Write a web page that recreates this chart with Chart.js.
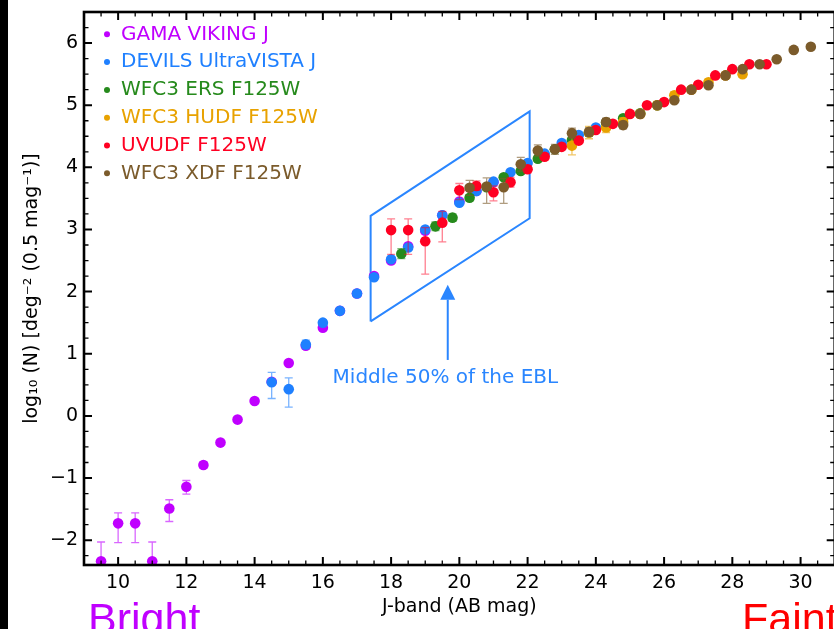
<!DOCTYPE html>
<html>
<head>
<meta charset="utf-8">
<script src="https://cdn.jsdelivr.net/npm/chart.js@4.4.1/dist/chart.umd.min.js"></script>
<style>
  html, body { margin: 0; padding: 0; background: #000; overflow: hidden; width: 834px; height: 629px; }
  #wrap { position: absolute; left: 8px; top: 0; width: 832px; height: 629px; background: #fff; }
  canvas { display: block; }
</style>
</head>
<body>
<div id="wrap"><canvas id="counts" width="832" height="629"></canvas></div>
<script>
// --- series: J-band magnitude, log10 N, error bars (up / down) ---
const gamaMag   = [9.5, 10, 10.5, 11, 11.5, 12, 12.5, 13, 13.5, 14, 14.5, 15, 15.5, 16, 16.5, 17, 17.5, 18, 18.5, 19, 19.5, 20, 20.5, 21];
const gamaLogN  = [-2.34, -1.73, -1.73, -2.34, -1.49, -1.14, -0.79, -0.43, -0.06, 0.24, 0.55, 0.85, 1.13, 1.42, 1.69, 1.97, 2.25, 2.50, 2.73, 2.98, 3.23, 3.45, 3.62, 3.76];
const gamaErrUp = [0.31, 0.17, 0.17, 0.31, 0.14, 0.10, 0.05, 0.03, 0.02, 0.02, 0.02, 0.02, 0.02, 0.02, 0.02, 0.02, 0.02, 0.02, 0.02, 0.02, 0.02, 0.02, 0.02, 0.02];
const gamaErrDn = [0.50, 0.31, 0.31, 0.50, 0.21, 0.12, 0.05, 0.03, 0.02, 0.02, 0.02, 0.02, 0.02, 0.02, 0.02, 0.02, 0.02, 0.02, 0.02, 0.02, 0.02, 0.02, 0.02, 0.02];

const devilsMag   = [14.5, 15, 15.5, 16, 16.5, 17, 17.5, 18, 18.5, 19, 19.5, 20, 20.5, 21, 21.5, 22, 22.5, 23, 23.5, 24];
const devilsLogN  = [0.54, 0.43, 1.15, 1.50, 1.69, 1.97, 2.23, 2.52, 2.71, 3.00, 3.23, 3.43, 3.62, 3.77, 3.92, 4.07, 4.22, 4.39, 4.52, 4.64];
const devilsErrUp = [0.16, 0.18, 0.07, 0.04, 0.02, 0.02, 0.02, 0.02, 0.02, 0.02, 0.02, 0.02, 0.02, 0.02, 0.02, 0.02, 0.02, 0.02, 0.02, 0.02];
const devilsErrDn = [0.26, 0.29, 0.07, 0.04, 0.02, 0.02, 0.02, 0.02, 0.02, 0.02, 0.02, 0.02, 0.02, 0.02, 0.02, 0.02, 0.02, 0.02, 0.02, 0.02];

const ersMag   = [18.3, 19.3, 19.8, 20.3, 20.8, 21.3, 21.8, 22.3, 22.8, 23.3, 23.8, 24.3, 24.8, 25.3, 25.8];
const ersLogN  = [2.61, 3.05, 3.19, 3.51, 3.68, 3.84, 3.94, 4.14, 4.29, 4.44, 4.56, 4.72, 4.79, 4.87, 5.00];
const ersErrUp = [0.08, 0.07, 0.06, 0.05, 0.05, 0.04, 0.04, 0.04, 0.03, 0.03, 0.03, 0.03, 0.03, 0.03, 0.03];
const ersErrDn = [0.08, 0.07, 0.06, 0.05, 0.05, 0.04, 0.04, 0.04, 0.03, 0.03, 0.03, 0.03, 0.03, 0.03, 0.03];

const hudfMag   = [23.3, 23.8, 24.3, 24.8, 25.3, 25.8, 26.3, 26.8, 27.3, 27.8, 28.3];
const hudfLogN  = [4.35, 4.56, 4.64, 4.73, 4.86, 5.00, 5.16, 5.25, 5.37, 5.48, 5.50];
const hudfErrUp = [0.15, 0.10, 0.08, 0.07, 0.06, 0.06, 0.06, 0.05, 0.05, 0.05, 0.05];
const hudfErrDn = [0.15, 0.10, 0.08, 0.07, 0.06, 0.06, 0.06, 0.05, 0.05, 0.05, 0.05];

const uvudfMag   = [18, 18.5, 19, 19.5, 20, 20.5, 21, 21.5, 22, 22.5, 23, 23.5, 24, 24.5, 25, 25.5, 26, 26.5, 27, 27.5, 28, 28.5, 29];
const uvudfLogN  = [2.99, 2.99, 2.81, 3.11, 3.63, 3.70, 3.60, 3.76, 3.97, 4.17, 4.33, 4.43, 4.60, 4.70, 4.86, 5.00, 5.05, 5.25, 5.33, 5.48, 5.58, 5.66, 5.66];
const uvudfErrUp = [0.18, 0.18, 0.22, 0.18, 0.11, 0.08, 0.10, 0.08, 0.06, 0.05, 0.04, 0.03, 0.03, 0.03, 0.02, 0.02, 0.02, 0.02, 0.02, 0.02, 0.02, 0.02, 0.02];
const uvudfErrDn = [0.39, 0.39, 0.53, 0.31, 0.15, 0.07, 0.14, 0.08, 0.06, 0.05, 0.04, 0.03, 0.03, 0.03, 0.02, 0.02, 0.02, 0.02, 0.02, 0.02, 0.02, 0.02, 0.02];

const xdfMag   = [20.3, 20.8, 21.3, 21.8, 22.3, 22.8, 23.3, 23.8, 24.3, 24.8, 25.3, 25.8, 26.3, 26.8, 27.3, 27.8, 28.3, 28.8, 29.3, 29.8, 30.3];
const xdfLogN  = [3.67, 3.69, 3.68, 4.05, 4.27, 4.29, 4.55, 4.57, 4.73, 4.68, 4.86, 5.00, 5.08, 5.25, 5.32, 5.48, 5.58, 5.66, 5.74, 5.89, 5.94];
const xdfErrUp = [0.12, 0.14, 0.14, 0.11, 0.09, 0.08, 0.08, 0.07, 0.06, 0.06, 0.04, 0.04, 0.03, 0.03, 0.03, 0.03, 0.03, 0.03, 0.03, 0.03, 0.03];
const xdfErrDn = [0.12, 0.27, 0.26, 0.11, 0.09, 0.08, 0.08, 0.07, 0.06, 0.06, 0.04, 0.04, 0.03, 0.03, 0.03, 0.03, 0.03, 0.03, 0.03, 0.03, 0.03];

const seriesNames  = ['GAMA VIKING J', 'DEVILS UltraVISTA J', 'WFC3 ERS F125W', 'WFC3 HUDF F125W', 'UVUDF F125W', 'WFC3 XDF F125W'];
const seriesColors = ['#c000ff', '#1f80ff', '#268a1c', '#e8a200', '#ff0022', '#7b5b2b'];
const errColors    = ['rgba(192,0,255,0.6)', 'rgba(31,128,255,0.6)', 'rgba(38,138,28,0.6)', 'rgba(232,162,0,0.6)', 'rgba(255,0,34,0.5)', 'rgba(123,91,43,0.6)'];

// "middle 50% of the EBL" parallelogram and arrow (data coordinates)
const boxMag  = [17.4, 17.4, 22.06, 22.06, 17.4];
const boxLogN = [1.52, 3.22, 4.90, 3.18, 1.52];
const arrowMag = 19.66;
const arrowFrom = 0.90, arrowTo = 2.11, arrowHeadBase = 1.87;
const noteText = 'Middle 50% of the EBL';
const noteMag = 19.59, noteLogN = 0.61;
const boxColor = '#2a86ff';

const xTickValues = [10, 12, 14, 16, 18, 20, 22, 24, 26, 28, 30];
const yTickValues = [-2, -1, 0, 1, 2, 3, 4, 5, 6];

const allMag  = [gamaMag, devilsMag, ersMag, hudfMag, uvudfMag, xdfMag];
const allLogN = [gamaLogN, devilsLogN, ersLogN, hudfLogN, uvudfLogN, xdfLogN];
const allUp   = [gamaErrUp, devilsErrUp, ersErrUp, hudfErrUp, uvudfErrUp, xdfErrUp];
const allDn   = [gamaErrDn, devilsErrDn, ersErrDn, hudfErrDn, uvudfErrDn, xdfErrDn];

const FONT = '"DejaVu Sans", sans-serif';
const minus = v => (v < 0 ? '\u2212' + Math.abs(v) : String(v));

const datasets = seriesNames.map((name, k) => ({
  label: name,
  data: allMag[k].map((m, i) => ({ x: m, y: allLogN[k][i] })),
  errUp: allUp[k],
  errDn: allDn[k],
  errColor: errColors[k],
  backgroundColor: seriesColors[k],
  borderWidth: 0,
  pointRadius: 5.3,
  pointHoverRadius: 5.3,
  order: seriesNames.length - 1 - k,
  clip: 0,
}));

datasets.push({
  label: 'box',
  data: boxMag.map((m, i) => ({ x: m, y: boxLogN[i] })),
  showLine: true,
  borderColor: boxColor,
  borderWidth: 2,
  pointRadius: 0,
  fill: false,
  order: 20,
});

// 誤差棒：各系列の点の直前に描く
const errorBars = {
  id: 'errorBars',
  beforeDatasetDraw(chart, args) {
    const ds = chart.data.datasets[args.index];
    if (!ds.errUp) return;
    const { ctx, chartArea: a, scales: { x, y } } = chart;
    ctx.save();
    ctx.beginPath();
    ctx.rect(a.left, a.top, a.right - a.left, a.bottom - a.top);
    ctx.clip();
    ctx.strokeStyle = ds.errColor;
    ctx.lineWidth = 1.3;
    ds.data.forEach((p, i) => {
      const px = x.getPixelForValue(p.x);
      const yt = y.getPixelForValue(p.y + ds.errUp[i]);
      const yb = y.getPixelForValue(p.y - ds.errDn[i]);
      if (yb - yt < 4) return;
      ctx.beginPath();
      ctx.moveTo(px, yt); ctx.lineTo(px, yb);
      ctx.moveTo(px - 4, yt); ctx.lineTo(px + 4, yt);
      ctx.moveTo(px - 4, yb); ctx.lineTo(px + 4, yb);
      ctx.stroke();
    });
    ctx.restore();
  },
};

// 矢印と注記
const annotations = {
  id: 'annotations',
  afterDatasetsDraw(chart) {
    const { ctx, scales: { x, y } } = chart;
    const px = x.getPixelForValue(arrowMag);
    const y0 = y.getPixelForValue(arrowFrom);
    const y1 = y.getPixelForValue(arrowTo);
    const yb = y.getPixelForValue(arrowHeadBase);
    ctx.save();
    ctx.strokeStyle = boxColor;
    ctx.fillStyle = boxColor;
    ctx.lineWidth = 2;
    ctx.beginPath();
    ctx.moveTo(px, y0); ctx.lineTo(px, yb);
    ctx.stroke();
    ctx.beginPath();
    ctx.moveTo(px, y1); ctx.lineTo(px - 7.5, yb); ctx.lineTo(px + 7.5, yb);
    ctx.closePath();
    ctx.fill();
    ctx.font = '20px ' + FONT;
    ctx.textAlign = 'center';
    ctx.textBaseline = 'middle';
    ctx.fillText(noteText, x.getPixelForValue(noteMag), y.getPixelForValue(noteLogN));
    ctx.restore();
  },
};

// 枠・内向き目盛り・凡例・Bright/Faint
const frame = {
  id: 'frame',
  afterDraw(chart) {
    const { ctx, chartArea: a, scales: { x, y } } = chart;
    ctx.save();
    ctx.strokeStyle = '#000';
    for (let m = 9; m <= 31.001; m += 0.5) {
      const px = x.getPixelForValue(m);
      const major = Math.abs(m % 2) < 1e-6;
      const len = major ? 8 : 4.5;
      ctx.lineWidth = major ? 2 : 1.3;
      ctx.beginPath();
      ctx.moveTo(px, a.bottom); ctx.lineTo(px, a.bottom - len);
      ctx.moveTo(px, a.top); ctx.lineTo(px, a.top + len);
      ctx.stroke();
    }
    for (let v = -2.25; v <= 6.5; v += 0.25) {
      const py = y.getPixelForValue(v);
      const major = Math.abs(v - Math.round(v)) < 1e-6;
      const len = major ? 8 : 4.5;
      ctx.lineWidth = major ? 2 : 1.3;
      ctx.beginPath();
      ctx.moveTo(a.left, py); ctx.lineTo(a.left + len, py);
      ctx.moveTo(a.right, py); ctx.lineTo(a.right - len, py);
      ctx.stroke();
    }
    ctx.lineWidth = 2.6;
    ctx.strokeRect(a.left, a.top, a.right - a.left, a.bottom - a.top);

    // legend
    ctx.font = '20px ' + FONT;
    ctx.textBaseline = 'middle';
    ctx.textAlign = 'left';
    seriesNames.forEach((name, k) => {
      const ly = a.top + 22.3 + k * 27.8;
      ctx.fillStyle = seriesColors[k];
      ctx.beginPath();
      ctx.arc(a.left + 23, ly, 3, 0, Math.PI * 2);
      ctx.fill();
      ctx.fillText(name, a.left + 37, ly);
    });

    ctx.font = '43px "Liberation Sans", sans-serif';
    ctx.textBaseline = 'alphabetic';
    ctx.fillStyle = '#c000ff';
    ctx.fillText('Bright', 80, 633);
    ctx.fillStyle = '#ff0000';
    ctx.fillText('Faint', 734, 633);
    ctx.restore();
  },
};

new Chart(document.getElementById('counts'), {
  type: 'scatter',
  data: { datasets },
  options: {
    responsive: false,
    animation: false,
    layout: { padding: { top: 12, right: 2, left: 0, bottom: 0 } },
    plugins: { legend: { display: false }, tooltip: { enabled: false } },
    scales: {
      x: {
        type: 'linear',
        min: 9,
        max: 31,
        afterBuildTicks: (s) => { s.ticks = xTickValues.map(v => ({ value: v })); },
        afterFit: (s) => { s.height = 64; s.paddingLeft = 0; s.paddingRight = 0; },
        grid: { display: false, drawTicks: false },
        border: { display: false },
        ticks: {
          color: '#000', font: { family: FONT, size: 19 }, padding: 7,
          maxRotation: 0, autoSkip: false, callback: (v) => minus(v),
        },
        title: {
          display: true, text: 'J-band (AB mag)', color: '#000',
          font: { family: FONT, size: 19 }, padding: { top: 0, bottom: 11 },
        },
      },
      y: {
        type: 'linear',
        min: -2.4,
        max: 6.5,
        afterBuildTicks: (s) => { s.ticks = yTickValues.map(v => ({ value: v })); },
        afterFit: (s) => { s.width = 76; s.paddingTop = 0; s.paddingBottom = 0; },
        grid: { display: false, drawTicks: false },
        border: { display: false },
        ticks: {
          color: '#000', font: { family: FONT, size: 19 }, padding: 6,
          autoSkip: false, callback: (v) => minus(v),
        },
        title: {
          display: true, text: 'log\u2081\u2080 (N) [deg\u207B\u00B2 (0.5 mag\u207B\u00B9)]', color: '#000',
          font: { family: FONT, size: 19 }, padding: { top: 13, bottom: 0 },
        },
      },
    },
  },
  plugins: [errorBars, annotations, frame],
});
</script>
</body>
</html>
